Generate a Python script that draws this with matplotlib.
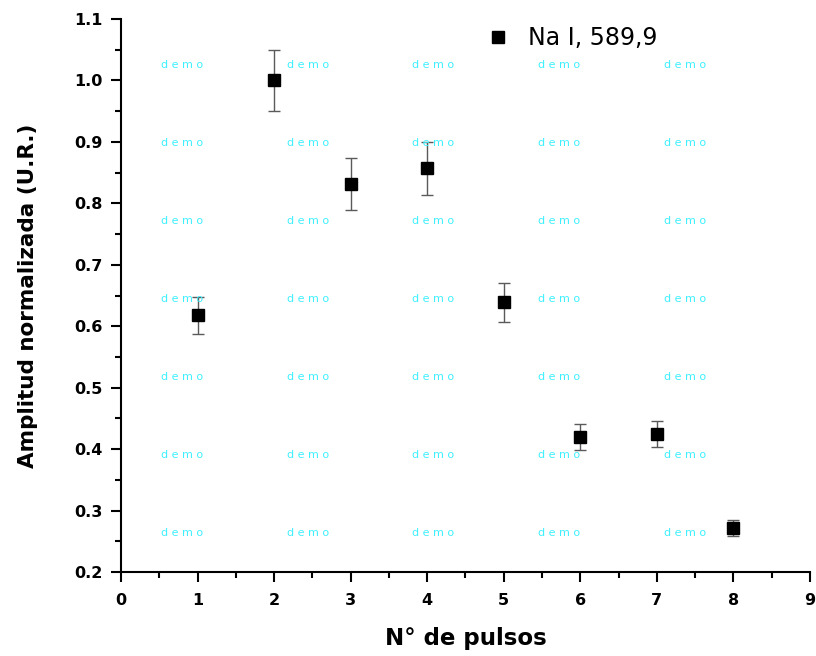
import matplotlib
matplotlib.use("Agg")
import matplotlib.pyplot as plt
from matplotlib.ticker import MultipleLocator
from matplotlib.lines import Line2D

# datos
pulsos = [1, 2, 3, 4, 5, 6, 7, 8]
amplitud = [0.618, 1.000, 0.832, 0.857, 0.639, 0.420, 0.424, 0.272]
error = [0.030, 0.050, 0.042, 0.043, 0.032, 0.021, 0.021, 0.013]
etiqueta = "Na I, 589,9"

plt.rcParams['font.family'] = ['DejaVu Sans']

fig = plt.figure(figsize=(8.16, 6.56), dpi=100)
ax = fig.add_axes([0.1483, 0.128, 0.8443, 0.843])

# marca de agua "demo"
for xp in [182, 308, 433, 559, 685]:
    for yp in [65, 143, 221, 299, 377, 455, 533]:
        fig.text(xp / 816, 1 - yp / 656, "d e m o", color="#3ef0ff",
                 fontsize=8, ha="center", va="center")

ax.errorbar(pulsos, amplitud, yerr=error, fmt="s", color="black",
            markersize=8, ecolor="#5a5a5a", elinewidth=1.0,
            capsize=4.3, capthick=1.0, zorder=3)

ax.set_xlim(0, 9)
ax.set_ylim(0.2, 1.1)
ax.xaxis.set_major_locator(MultipleLocator(1))
ax.xaxis.set_minor_locator(MultipleLocator(0.5))
ax.yaxis.set_major_locator(MultipleLocator(0.1))
ax.yaxis.set_minor_locator(MultipleLocator(0.05))
ax.yaxis.set_major_formatter(plt.FormatStrFormatter('%.1f'))

for lado in ["top", "right"]:
    ax.spines[lado].set_visible(False)
for lado in ["left", "bottom"]:
    ax.spines[lado].set_linewidth(1.5)

ax.tick_params(which="major", direction="out", length=7, width=1.5,
               labelsize=11.5)
ax.tick_params(axis="x", which="major", pad=8)
ax.tick_params(axis="y", which="major", pad=6)
ax.tick_params(which="minor", direction="out", length=4, width=1.5)
for t in ax.get_xticklabels() + ax.get_yticklabels():
    t.set_fontweight("bold")

ax.set_xlabel("N° de pulsos", fontsize=16.5, fontweight="bold", labelpad=14)
ax.set_ylabel("Amplitud normalizada (U.R.)", fontsize=15.5, fontweight="bold",
              labelpad=26)

marca = Line2D([], [], marker="s", ls="none", color="black", markersize=8)
ax.legend(handles=[marca], labels=[etiqueta], loc="upper left",
          bbox_to_anchor=(0.49, 1.025), frameon=False, fontsize=17,
          handletextpad=0.55, handlelength=1.5)

fig.savefig("out.png", dpi=100)
